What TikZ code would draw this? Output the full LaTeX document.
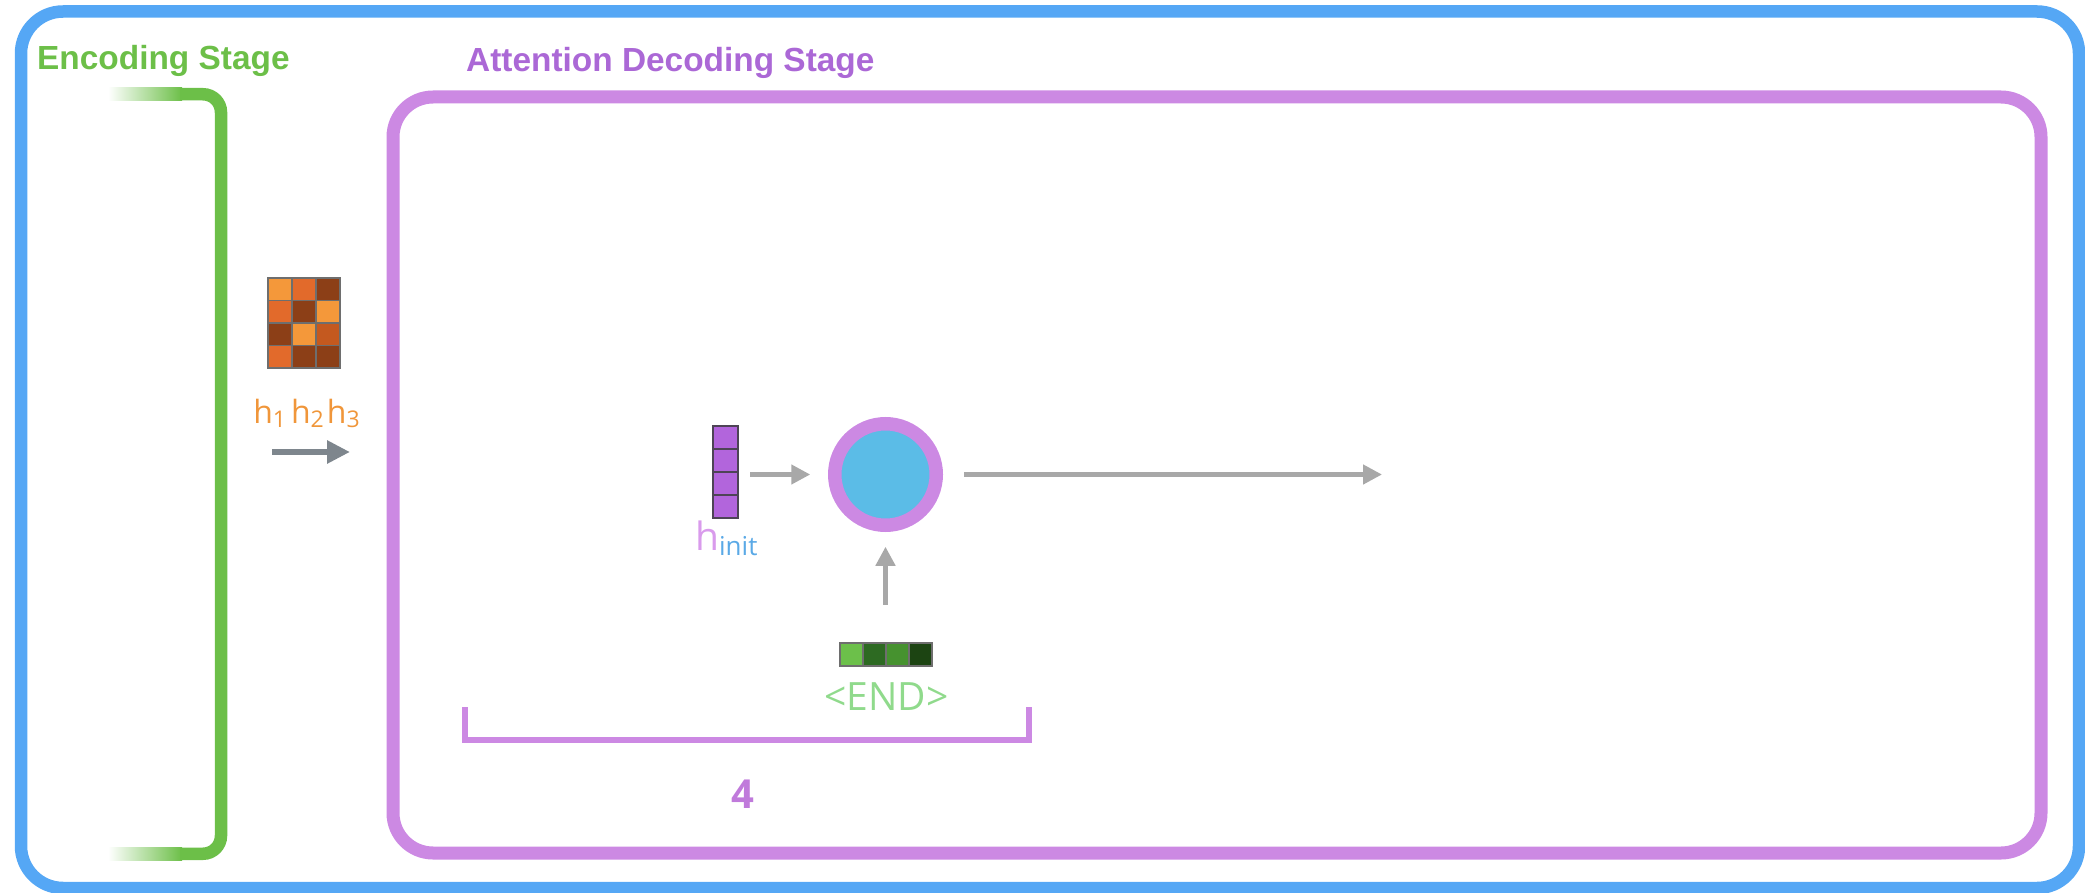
\documentclass[tikz,border=0pt]{standalone}
\usepackage{fontspec}
\setmainfont{Open Sans}
\newfontfamily\headfont{Liberation Sans}
\usetikzlibrary{arrows.meta}
\definecolor{frameblue}{HTML}{55A7F5}
\definecolor{encgreen}{HTML}{6CBF48}
\definecolor{decpurple}{HTML}{CC89E3}
\definecolor{headpurple}{HTML}{AB68D6}
\definecolor{cellblue}{HTML}{5BBCE7}
\definecolor{arrowgray}{HTML}{A8A8A8}
\definecolor{harrowgray}{HTML}{7E868D}
\definecolor{mLO}{HTML}{F4983A}
\definecolor{mO}{HTML}{E26A2B}
\definecolor{mD}{HTML}{8C3F17}
\definecolor{mM}{HTML}{C4591F}
\definecolor{mgrid}{HTML}{6E6E6E}
\definecolor{vpurple}{HTML}{B265DC}
\definecolor{vgrid}{HTML}{4E4456}
\definecolor{gA}{HTML}{6CC04A}
\definecolor{gB}{HTML}{2D6A22}
\definecolor{gC}{HTML}{46922F}
\definecolor{gD}{HTML}{1C4412}
\definecolor{endgreen}{HTML}{90DA8C}
\definecolor{horange}{HTML}{F0963A}
\definecolor{hpink}{HTML}{D99BEC}
\definecolor{hblue}{HTML}{5AA9E6}
\definecolor{fourpurple}{HTML}{C07ADB}
\begin{document}
\begin{tikzpicture}[x=1pt,y=-1pt,
  garrow/.style={draw=arrowgray, line width=4.5, -{Triangle[length=19,width=19]}},
  harrow/.style={draw=harrowgray, line width=6, -{Triangle[length=23,width=22]}},
  headtext/.style={font=\headfont\bfseries\fontsize{33.4}{38}\selectfont, inner sep=0, anchor=base west},
  cellbox/.style={inner sep=0, draw=none}
]
\useasboundingbox (0,0) rectangle (2085,893);
% outer frame
\draw[frameblue, line width=12.5, rounded corners=42] (21,11.5) rectangle (2079,888);
% encoding bracket
\shade[left color=white, right color=encgreen] (108,88) rectangle (182,100.5);
\shade[left color=white, right color=encgreen] (108,847.5) rectangle (182,860);
\draw[encgreen, line width=12.5, rounded corners=18] (180,94.25) -- (221,94.25) -- (221,853.75) -- (180,853.75);
% decoding frame
\draw[decpurple, line width=13, rounded corners=40] (393,97) rectangle (2041,853);
% headings
\node[headtext, text=encgreen] (enclabel) at (37,70) {Encoding Stage};
\node[headtext, text=headpurple] (declabel) at (466,72) {Attention Decoding Stage};
% matrix of hidden states
\node[cellbox, minimum width=72, minimum height=90] (mat) at (304,323) {};
\foreach \col/\r/\c in {mLO/0/0, mO/0/1, mD/0/2,
                        mO/1/0, mD/1/1, mLO/1/2,
                        mD/2/0, mLO/2/1, mM/2/2,
                        mO/3/0, mD/3/1, mD/3/2}
  \filldraw[fill=\col, draw=mgrid, line width=1.2] (268+24*\c, 278+22.5*\r) rectangle ++(24,22.5);
\node[inner sep=0, anchor=base, text=horange, font=\fontsize{32}{36}\selectfont] (hlabel) at (306.5,423)
  {h\raisebox{-4pt}{\fontsize{23}{26}\selectfont 1}\hspace{5pt}h\raisebox{-4pt}{\fontsize{23}{26}\selectfont 2}\hspace{3pt}h\raisebox{-4pt}{\fontsize{23}{26}\selectfont 3}};
\coordinate (ha) at (272,452);
\coordinate (hb) at (350,452);
\draw[harrow] (ha) -- (hb);
% h_init vector
\node[cellbox, minimum width=25, minimum height=92] (hv) at (725.5,472) {};
\foreach \r in {0,1,2,3}
  \filldraw[fill=vpurple, draw=vgrid, line width=1.2] (713,426+23*\r) rectangle ++(25,23);
\node[inner sep=0, anchor=base west] (hinit) at (695,550)
  {\fontsize{39}{42}\selectfont\color{hpink}h\raisebox{-5pt}{\fontsize{26}{30}\selectfont\color{hblue}init}};
% decoder cell
\node[circle, draw=decpurple, fill=cellblue, line width=13.5, minimum size=101.5, inner sep=0] (cell) at (885.5,474.5) {};
% END embedding
\node[cellbox, minimum width=92, minimum height=23] (ev) at (886,654.5) {};
\foreach \col/\c in {gA/0, gB/1, gC/2, gD/3}
  \filldraw[fill=\col, draw=mgrid, line width=1.2] (840+23*\c,643) rectangle ++(23,23);
\node[inner sep=0, anchor=base, text=endgreen, font=\fontsize{39}{44}\selectfont] (endlabel) at (886.5,710) {<END>};
% connectors
\draw[garrow, shorten <=12, shorten >=17.75] (hv.east |- cell.west) -- (cell.west);
\coordinate (out) at (1382,474.5);
\draw[garrow, shorten <=20.75] (cell.east) -- (out);
\draw[garrow, shorten <=38, shorten >=14.75] (cell.south |- ev.north) -- (cell.south);
% bracket
\coordinate (bl) at (464.5,707);
\coordinate (br) at (1029,707);
\draw[decpurple, line width=6] (bl) -- ++(0,33) -| (br);
\node[inner sep=0, anchor=base, text=fourpurple, font=\bfseries\fontsize{40}{44}\selectfont] (count) at (743,808) {4};
\end{tikzpicture}
\end{document}
